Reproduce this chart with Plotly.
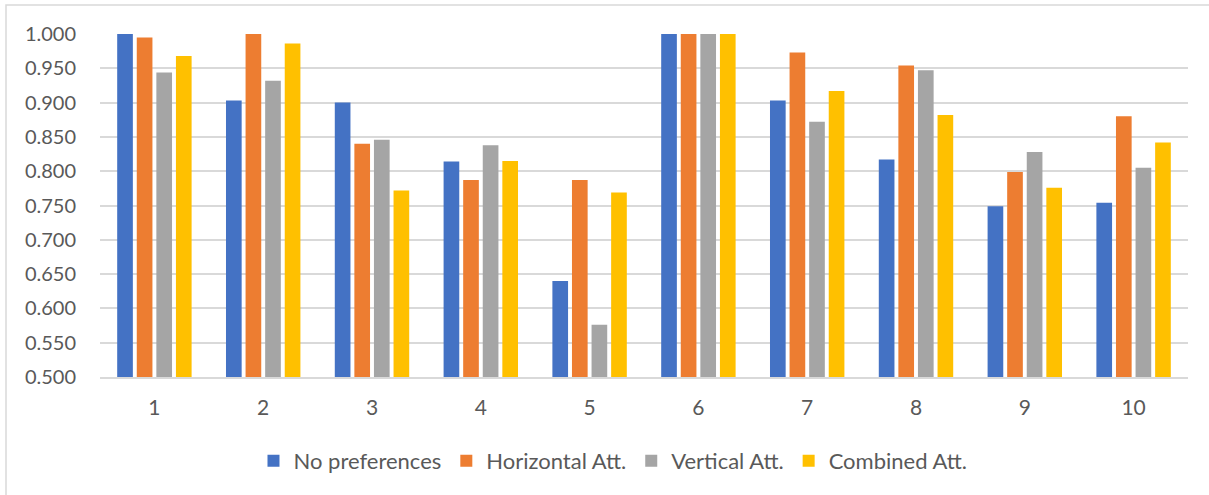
import plotly.graph_objects as go

categories = ["1", "2", "3", "4", "5", "6", "7", "8", "9", "10"]
no_pref = [1.000, 0.903, 0.900, 0.814, 0.640, 1.000, 0.903, 0.817, 0.749, 0.754]
horizontal = [0.995, 1.000, 0.840, 0.787, 0.787, 1.000, 0.973, 0.954, 0.799, 0.880]
vertical = [0.944, 0.932, 0.846, 0.838, 0.576, 1.000, 0.872, 0.947, 0.828, 0.805]
combined = [0.968, 0.986, 0.772, 0.815, 0.769, 1.000, 0.917, 0.882, 0.776, 0.842]
series_names = ["No preferences", "Horizontal Att.", "Vertical Att.", "Combined Att."]
colors = ["#4472C4", "#ED7D31", "#A5A5A5", "#FFC000"]
tick_vals = [0.5, 0.55, 0.6, 0.65, 0.7, 0.75, 0.8, 0.85, 0.9, 0.95, 1.0]

fig = go.Figure()
for name, vals, c in zip(series_names, [no_pref, horizontal, vertical, combined], colors):
    fig.add_trace(go.Bar(x=categories, y=vals, name=name, marker_color=c,
                         marker_line_width=0))

font_family = "Lato, 'Liberation Sans', sans-serif"
W, H = 1209, 495
L, R, T, B = 100, 21, 34, 118
pw, ph = W - L - R, H - T - B

fig.update_layout(
    width=W, height=H,
    margin=dict(l=L, r=R, t=T, b=B, pad=0),
    plot_bgcolor="white", paper_bgcolor="white",
    barmode="group", bargap=0.28, bargroupgap=0.2,
    font=dict(family=font_family, size=20, color="#595959"),
    showlegend=True,
    legend=dict(orientation="h", x=0.4715, xanchor="center", y=-0.245, yanchor="middle",
                font=dict(size=22, color="#595959"), traceorder="normal",
                itemwidth=30),
    xaxis=dict(showgrid=False, showline=True, linecolor="#d9d9d9", linewidth=2,
               ticks="", tickfont=dict(size=21, color="#595959"), ticklabelstandoff=11),
    yaxis=dict(range=[0.5, 1.0], tickvals=tick_vals, tickformat=".3f",
               showgrid=True, gridcolor="#d9d9d9", gridwidth=1.5,
               zeroline=False, showline=False, ticks="",
               tickfont=dict(size=20, color="#595959"), ticklabelstandoff=23),
)

# outer chart border (left and top edges visible)
fig.add_shape(type="rect", xref="paper", yref="paper",
              x0=(6 - L) / pw, x1=(1215 - L) / pw,
              y0=-(H + 10 - (T + ph)) / ph, y1=(T + ph - 5) / ph,
              line=dict(color="#d9d9d9", width=1.5), fillcolor="rgba(0,0,0,0)", layer="below")

fig.write_html("out.html")
